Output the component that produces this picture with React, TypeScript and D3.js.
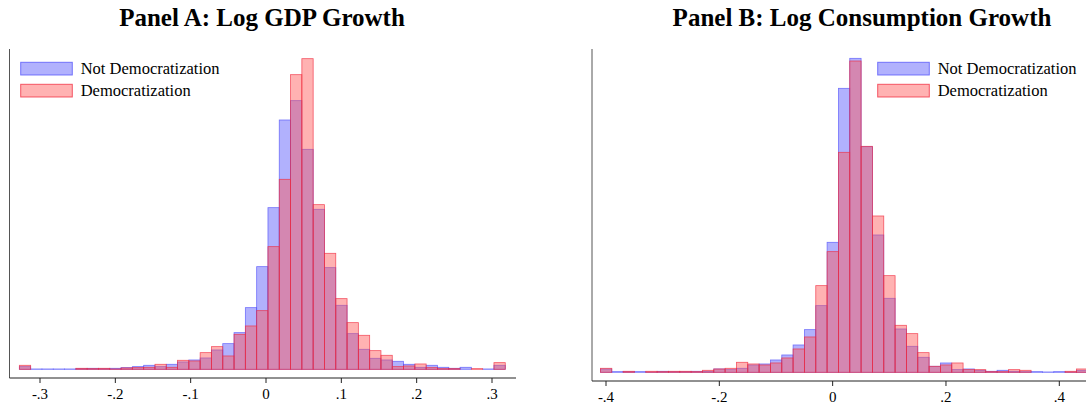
import * as d3 from "d3";
import React, { useEffect, useRef } from "react";

// Panel A: log GDP growth, bin width .015
const gdpStart = -0.3274;
const gdpWidth = 0.015;
const gdpNotDem = [8, 1, 1, 1, 1, 2, 3, 2, 3, 5, 8, 12, 8, 15, 22, 28, 34, 58, 77, 110, 185, 308, 485, 748, 806, 660, 480, 305, 192, 107, 60, 33, 28, 24, 15, 6, 12, 6, 3, 6, 0, 1, 12];
const gdpDem = [12, 0, 0, 0, 0, 3, 2, 3, 1, 4, 5, 6, 15, 6, 27, 25, 50, 68, 40, 105, 130, 176, 368, 570, 884, 932, 494, 348, 212, 140, 102, 56, 42, 8, 10, 16, 5, 2, 2, 0, 2, 0, 20];
const gdpTicks = [-0.3, -0.2, -0.1, 0, 0.1, 0.2, 0.3];

// Panel B: log consumption growth, bin width .02
const conStart = -0.4098;
const conWidth = 0.02;
const conNotDem = [10, 2, 2, 2, 1, 3, 2, 2, 3, 3, 10, 8, 12, 22, 25, 37, 52, 82, 128, 200, 390, 852, 942, 677, 412, 222, 130, 78, 45, 18, 28, 8, 10, 6, 3, 6, 3, 2, 2, 1, 2, 1, 6];
const conDem = [12, 0, 3, 0, 3, 2, 3, 3, 2, 6, 10, 12, 30, 25, 22, 28, 43, 70, 106, 260, 362, 660, 934, 678, 469, 290, 141, 116, 59, 18, 22, 28, 8, 8, 2, 2, 8, 6, 0, 0, 0, 3, 10];
const conTicks = [-0.4, -0.2, 0, 0.2, 0.4];

const seriesNames = ["Not Democratization", "Democratization"];
const fills = ["rgba(90,90,250,0.47)", "rgba(255,85,85,0.45)"];
const strokes = ["rgba(80,80,250,0.75)", "rgba(240,40,60,0.75)"];

const fmt = (v: number) => (v === 0 ? "0" : (v < 0 ? "-" : "") + String(Math.abs(v)).replace(/^0/, ""));

const App = (): JSX.Element => {
	const svgRef = useRef<SVGSVGElement>(null);
	useEffect(() => {
		const svg = d3.select(svgRef.current);
		svg.selectAll("*").remove();

		const panels = [
			{ title: "Panel A: Log GDP Growth", cx: 262, start: gdpStart, w: gdpWidth, series: [gdpNotDem, gdpDem], ticks: gdpTicks,
				x: d3.scaleLinear().domain([-0.3, 0.3]).range([40, 492]), axisX: 9.5, axisY: 378, base: 369.3, xEnd: 516, legX: 20.7 },
			{ title: "Panel B: Log Consumption Growth", cx: 862, start: conStart, w: conWidth, series: [conNotDem, conDem], ticks: conTicks,
				x: d3.scaleLinear().domain([-0.4, 0.4]).range([606, 1059.3]), axisX: 592, axisY: 381, base: 372.3, xEnd: 1086, legX: 877.7 },
		];

		panels.forEach((p) => {
			const g = svg.append("g");
			const y = d3.scaleLinear().domain([0, 1000]).range([p.base, p.base - 333.3]);

			g.append("text").attr("x", p.cx).attr("y", 26).attr("text-anchor", "middle")
				.attr("font-family", "Liberation Serif").attr("font-weight", "bold").attr("font-size", 25).text(p.title);

			p.series.forEach((vals, si) => {
				g.selectAll(null).data(vals).join("rect")
					.attr("x", (_, i) => p.x(p.start + i * p.w))
					.attr("width", p.x(p.w) - p.x(0))
					.attr("y", (d) => y(d))
					.attr("height", (d) => p.base - y(d))
					.attr("fill", fills[si]).attr("stroke", strokes[si]).attr("stroke-width", 0.8);
			});

			// axes
			g.append("line").attr("x1", p.axisX).attr("x2", p.axisX).attr("y1", 49).attr("y2", p.axisY).attr("stroke", "#555").attr("stroke-width", 1);
			g.append("line").attr("x1", p.axisX).attr("x2", p.xEnd).attr("y1", p.axisY).attr("y2", p.axisY).attr("stroke", "#222").attr("stroke-width", 1);
			p.ticks.forEach((t) => {
				g.append("line").attr("x1", p.x(t)).attr("x2", p.x(t)).attr("y1", p.axisY).attr("y2", p.axisY + 5).attr("stroke", "#222");
				g.append("text").attr("x", p.x(t)).attr("y", p.axisY + 21).attr("text-anchor", "middle")
					.attr("font-family", "Liberation Serif").attr("font-size", 15).text(fmt(t));
			});

			// legend
			seriesNames.forEach((name, si) => {
				const ly = 62.3 + si * 22;
				g.append("rect").attr("x", p.legX).attr("y", ly).attr("width", 51.6).attr("height", 12.7)
					.attr("fill", fills[si]).attr("stroke", strokes[si]);
				g.append("text").attr("x", p.legX + 60).attr("y", ly + 12).attr("font-family", "Liberation Serif")
					.attr("font-size", 16.5).text(name);
			});
		});
	}, []);

	return <svg ref={svgRef} width={1086} height={407} style={{ position: "absolute", left: 0, top: 0, background: "#fff" }} />;
};

export default App;
